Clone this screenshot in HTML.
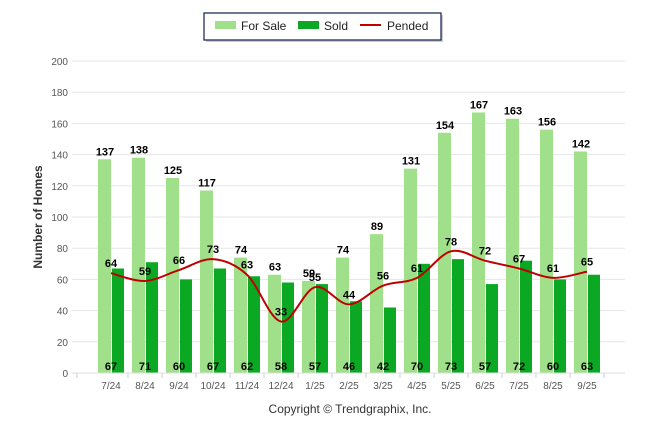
<!DOCTYPE html>
<html><head><meta charset="utf-8"><style>
html,body{margin:0;padding:0;background:#fff;}
svg{display:block;font-family:"Liberation Sans",Arial,sans-serif;}
</style></head><body>
<svg id="c" width="646" height="434" viewBox="0 0 646 434" xmlns="http://www.w3.org/2000/svg">
<rect x="206" y="15" width="237" height="27" fill="#999" opacity="0.5"/>
<rect x="204" y="13" width="237" height="27" fill="#fff" stroke="#1f2f5a" stroke-width="1.3"/>
<rect x="215" y="21" width="21" height="8" fill="#a1e08a"/>
<text x="241" y="30" font-size="12" fill="#222">For Sale</text>
<rect x="298" y="21" width="21" height="8" fill="#0ba923"/>
<text x="324" y="30" font-size="12" fill="#222">Sold</text>
<rect x="360" y="24" width="21" height="2" fill="#c00000"/>
<text x="387" y="30" font-size="12" fill="#222">Pended</text>
<text transform="translate(42,217) rotate(-90)" text-anchor="middle" font-size="12" font-weight="bold" fill="#333">Number of Homes</text>
<text x="350" y="413" text-anchor="middle" font-size="12" fill="#333">Copyright © Trendgraphix, Inc.</text>
<g id="g"></g>
</svg>
<script>
var g=document.getElementById('g'),s='';
function Y(v){return 373-1.56*v;}
for(var v=0;v<=200;v+=20){var y=Y(v);s+='<line x1="72" x2="625" y1="'+y+'" y2="'+y+'" stroke="#e6e6e6" stroke-width="1"/>';
s+='<text x="68" y="'+(y+4)+'" text-anchor="end" font-size="10" fill="#555">'+v+'</text>';}
var L=['7/24','8/24','9/24','10/24','11/24','12/24','1/25','2/25','3/25','4/25','5/25','6/25','7/25','8/25','9/25'];
var F=[137,138,125,117,74,63,59,74,89,131,154,167,163,156,142];
var S=[67,71,60,67,62,58,57,46,42,70,73,57,72,60,63];
var P=[64,59,66,73,63,33,55,44,56,61,78,72,67,61,65];
s+='<line x1="77" x2="77" y1="373" y2="378" stroke="#ccc"/>';
for(var i=0;i<15;i++){var cx=111+34*i;
s+='<rect x="'+(cx-13)+'" y="'+Y(F[i])+'" width="13" height="'+(1.56*F[i])+'" fill="#a1e08a"/>';
s+='<rect x="'+(cx+1)+'" y="'+Y(S[i])+'" width="12" height="'+(1.56*S[i])+'" fill="#0ba923"/>';
s+='<line x1="'+(cx+17)+'" x2="'+(cx+17)+'" y1="373" y2="378" stroke="#ccc"/>';
s+='<text x="'+cx+'" y="389" text-anchor="middle" font-size="10" fill="#555">'+L[i]+'</text>';
s+='<text x="'+(cx-6)+'" y="'+(Y(F[i])-4)+'" text-anchor="middle" font-size="11" font-weight="bold" fill="#000">'+F[i]+'</text>';
s+='<text x="'+cx+'" y="370" text-anchor="middle" font-size="11" font-weight="bold" fill="#000">'+S[i]+'</text>';}
s+='<line x1="72" x2="625" y1="373" y2="373" stroke="#ddd"/>';
var pts=P.map(function(v,i){return [111+34*i,Y(v)];});
var d='M'+pts[0][0]+','+pts[0][1];
for(var i=0;i<14;i++){var p0=pts[Math.max(i-1,0)],p1=pts[i],p2=pts[i+1],p3=pts[Math.min(i+2,14)];
d+=' C'+(p1[0]+(p2[0]-p0[0])/6)+','+(p1[1]+(p2[1]-p0[1])/6)+' '+(p2[0]-(p3[0]-p1[0])/6)+','+(p2[1]-(p3[1]-p1[1])/6)+' '+p2[0]+','+p2[1];}
s+='<path d="'+d+'" fill="none" stroke="#c00000" stroke-width="2"/>';
for(var i=0;i<15;i++){s+='<text x="'+pts[i][0]+'" y="'+(pts[i][1]-6)+'" text-anchor="middle" font-size="11" font-weight="bold" fill="#000">'+P[i]+'</text>';}
g.innerHTML=s;
</script>
</body></html>
